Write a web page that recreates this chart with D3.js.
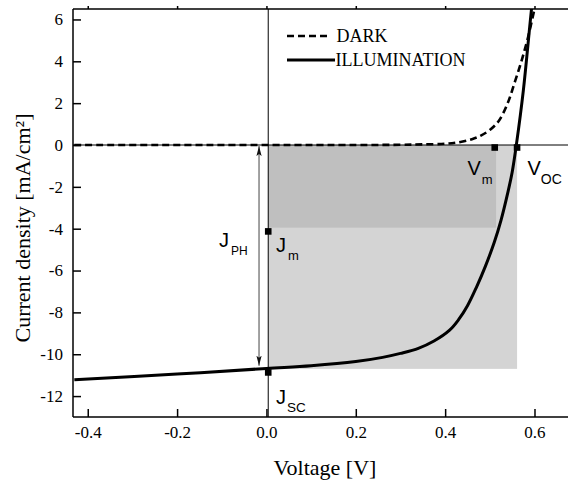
<!DOCTYPE html>
<html><head><meta charset="utf-8">
<script src="https://cdn.jsdelivr.net/npm/d3@7"></script>
<style>body{margin:0;background:#fff;} svg{display:block;}</style>
</head><body><svg id="c" width="568" height="483"></svg>
<script>
// ---- data ----
const darkV = [-0.43, 0.0, 0.2, 0.3, 0.35, 0.40, 0.43, 0.46, 0.48, 0.50, 0.52, 0.54, 0.555, 0.57, 0.585, 0.60, 0.61];
const darkJ = [0, 0, 0, 0.01, 0.03, 0.06, 0.13, 0.28, 0.45, 0.72, 1.15, 2.0, 2.95, 3.95, 5.1, 6.5, 7.4];
const illumV = [-0.43, -0.2, 0.0, 0.1, 0.2, 0.26, 0.3, 0.34, 0.375, 0.41, 0.43, 0.45, 0.47, 0.49, 0.51, 0.525, 0.54, 0.55, 0.56, 0.575, 0.59, 0.60];
const illumJ = [-11.22, -10.95, -10.68, -10.55, -10.35, -10.15, -9.96, -9.72, -9.37, -8.85, -8.35, -7.68, -6.8, -5.8, -4.65, -3.6, -2.3, -1.3, 0.1, 2.6, 5.8, 7.9];
const xTickValues = [-0.4, -0.2, 0.0, 0.2, 0.4, 0.6];
const xTickLabels = ["-0.4", "-0.2", "0.0", "0.2", "0.4", "0.6"];
const yTickValues = [-12, -10, -8, -6, -4, -2, 0, 2, 4, 6];
const yTickLabels = ["-12", "-10", "-8", "-6", "-4", "-2", "0", "2", "4", "6"];
const seriesNames = ["DARK", "ILLUMINATION"];
const Vzero = 0.004, Vm = 0.514, Voc = 0.561;
const Jm = -3.95, Jsc = -10.7, JmMark = -4.13, JscMark = -10.87, JvMark = -0.12;
const arrowV = -0.0166, arrowJtop = -0.05, arrowJbot = -10.55;

// ---- layout ----
const L = 73, R = 568, T = 9, B = 417;
const svg = d3.select("#c");
const x = d3.scaleLinear().domain([-0.433, 0.675]).range([L, R]);
const y = d3.scaleLinear().domain([-13, 6.5]).range([B, T]);
const serif = "'Liberation Serif','Times New Roman',Times,serif";
const sans = "'Liberation Sans',Arial,Helvetica,sans-serif";

const defs = svg.append("defs");
defs.append("clipPath").attr("id", "clip")
  .append("rect").attr("x", L).attr("y", T).attr("width", R - L + 5).attr("height", B - T);
defs.append("marker").attr("id", "ah").attr("viewBox", "0 0 10 10")
  .attr("refX", 10).attr("refY", 5).attr("markerWidth", 10).attr("markerHeight", 10)
  .attr("markerUnits", "userSpaceOnUse").attr("orient", "auto-start-reverse")
  .append("path").attr("d", "M0,2.4 L10,5 L0,7.6 L2,5 Z").attr("fill", "#111");

// shaded rectangles
svg.append("rect").attr("x", x(Vzero)).attr("y", y(0))
  .attr("width", x(Voc) - x(Vzero)).attr("height", y(Jsc) - y(0)).attr("fill", "#d4d4d4");
svg.append("rect").attr("x", x(Vzero)).attr("y", y(0))
  .attr("width", x(Vm) - x(Vzero)).attr("height", y(Jm) - y(0)).attr("fill", "#bfbfbf");

// zero lines
svg.append("line").attr("x1", L).attr("x2", R).attr("y1", y(0)).attr("y2", y(0))
  .attr("stroke", "#000").attr("stroke-width", 1);
svg.append("line").attr("x1", x(Vzero)).attr("x2", x(Vzero)).attr("y1", T).attr("y2", B)
  .attr("stroke", "#000").attr("stroke-width", 1);

// J_PH arrow
svg.append("line").attr("x1", x(arrowV)).attr("x2", x(arrowV))
  .attr("y1", y(arrowJtop)).attr("y2", y(arrowJbot))
  .attr("stroke", "#7a7a7a").attr("stroke-width", 1.4)
  .attr("marker-start", "url(#ah)").attr("marker-end", "url(#ah)");

// curves
const line = d3.line().x(d => x(d[0])).y(d => y(d[1])).curve(d3.curveCatmullRom.alpha(0.5));
const g = svg.append("g").attr("clip-path", "url(#clip)");
g.append("path").datum(darkV.map((v, i) => [v, darkJ[i]])).attr("d", line)
  .attr("fill", "none").attr("stroke", "#000").attr("stroke-width", 2.6).attr("stroke-dasharray", "7,4");
g.append("path").datum(illumV.map((v, i) => [v, illumJ[i]])).attr("d", line)
  .attr("fill", "none").attr("stroke", "#000").attr("stroke-width", 3);

// markers
const marks = [[Vzero, JscMark], [Vzero, JmMark], [Vm - 0.003, JvMark], [Voc, JvMark]];
svg.selectAll("rect.mk").data(marks).join("rect").attr("class", "mk")
  .attr("x", d => x(d[0]) - 3.3).attr("y", d => y(d[1]) - 3.3)
  .attr("width", 6.6).attr("height", 6.6).attr("fill", "#000");

// frame
const frame = svg.append("g").attr("stroke", "#000").attr("stroke-width", 1.5);
frame.append("line").attr("x1", L).attr("x2", L).attr("y1", T).attr("y2", B);
frame.append("line").attr("x1", L).attr("x2", R + 2).attr("y1", T).attr("y2", T);
frame.append("line").attr("x1", L).attr("x2", R + 2).attr("y1", B).attr("y2", B);

// axes
const xAxis = svg.append("g").attr("transform", `translate(0,${B})`)
  .call(d3.axisBottom(x).tickValues(xTickValues).tickFormat((d, i) => xTickLabels[i])
    .tickSizeInner(-8).tickSizeOuter(0).tickPadding(9));
const yAxis = svg.append("g").attr("transform", `translate(${L},0)`)
  .call(d3.axisLeft(y).tickValues(yTickValues).tickFormat((d, i) => yTickLabels[i])
    .tickSizeInner(-8).tickSizeOuter(0).tickPadding(10));
const xTop = svg.append("g").attr("transform", `translate(0,${T})`)
  .call(d3.axisTop(x).tickValues(xTickValues).tickFormat("").tickSizeInner(3).tickSizeOuter(0));
[xAxis, yAxis, xTop].forEach(a => {
  a.attr("font-family", serif).attr("font-size", 17);
  a.select(".domain").remove();
  a.selectAll(".tick line").attr("stroke", "#000").attr("stroke-width", 1.5);
  a.selectAll("text").attr("font-family", serif).attr("font-size", 17).attr("fill", "#000");
});

// axis titles
svg.append("text").attr("x", 325).attr("y", 475).attr("text-anchor", "middle")
  .attr("font-family", serif).attr("font-size", 22).text("Voltage [V]");
svg.append("text").attr("transform", "translate(30,228) rotate(-90)").attr("text-anchor", "middle")
  .attr("font-family", serif).attr("font-size", 22).text("Current density [mA/cm²]");

// legend
svg.append("line").attr("x1", 287).attr("x2", 329).attr("y1", 36).attr("y2", 36)
  .attr("stroke", "#000").attr("stroke-width", 2.6).attr("stroke-dasharray", "7,4");
svg.append("line").attr("x1", 287).attr("x2", 335).attr("y1", 60).attr("y2", 60)
  .attr("stroke", "#000").attr("stroke-width", 3);
svg.append("text").attr("x", 336.5).attr("y", 42).attr("font-family", serif).attr("font-size", 18).text(seriesNames[0]);
svg.append("text").attr("x", 335.5).attr("y", 66).attr("font-family", serif).attr("font-size", 18).text(seriesNames[1]);

// annotation labels
function lab(xp, yp, main, sub, subSize, subDx, subDy) {
  const t = svg.append("text").attr("x", xp).attr("y", yp).attr("font-family", sans).attr("font-size", 20).attr("fill", "#000");
  t.append("tspan").text(main);
  t.append("tspan").attr("dx", subDx).attr("dy", subDy).attr("font-size", subSize).text(sub);
}
lab(219, 247, "J", "PH", 12, 2, 7.5);
lab(276, 252, "J", "m", 13, 2, 7.5);
lab(276, 403.5, "J", "SC", 13.5, 1, 8);
lab(467.5, 175, "V", "m", 13, 1, 8.5);
lab(527.5, 175, "V", "OC", 14, 0, 8.5);
</script></body></html>
